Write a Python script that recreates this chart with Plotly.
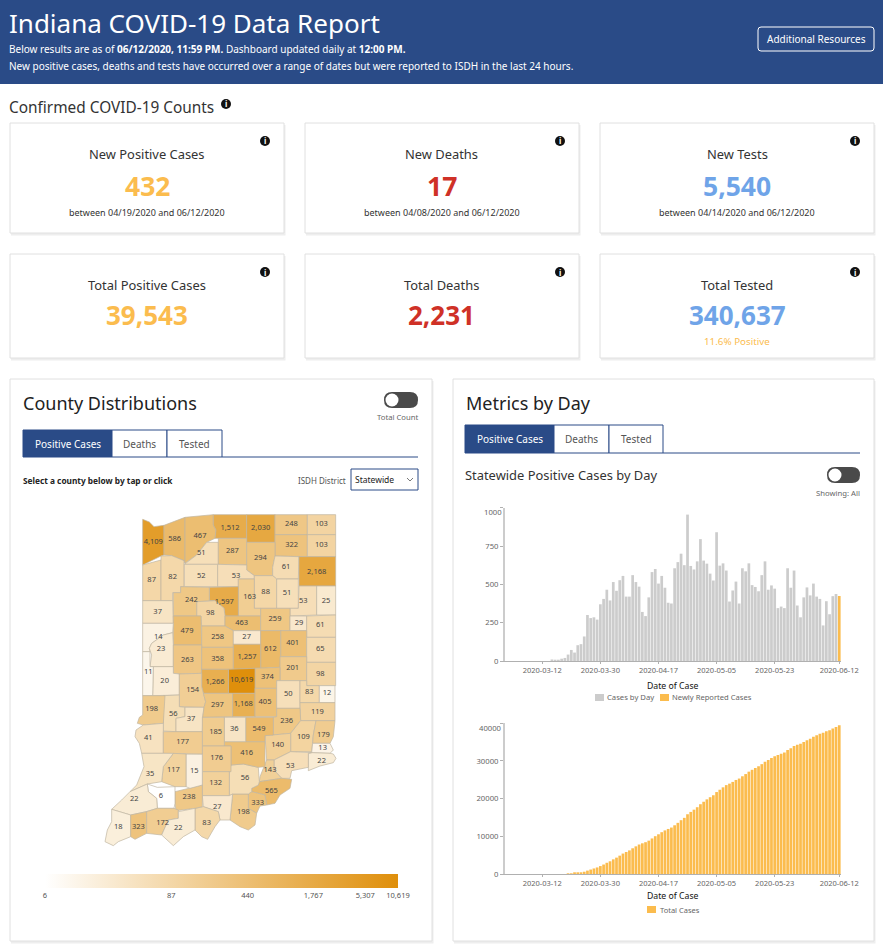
import numpy as np
import pandas as pd
import plotly.colors as pcolors
import plotly.graph_objs as graph_obj

WIDTH = 883
HEIGHT = 951
FONT = "Noto Sans"
NAVY = "#2a4b87"
ORANGE = "#fbbc4e"
GREY_BAR = "#cccccc"
RED = "#cf3127"
BLUE = "#6fa4e8"

# --- data ---------------------------------------------------------------
# cases per day, 2020-03-06 .. 2020-06-11
CASES_BY_DAY = [
    0, 0, 0, 0, 0, 0, 0, 0, 0, 10, 2, 6, 15, 20, 42, 72, 55, 103, 110, 160, 300, 280, 285, 270, 370, 405,
    465, 395, 515, 458, 527, 555, 420, 420, 560, 515, 485, 320, 293, 415, 580, 600, 505, 555, 478, 380, 375,
    605, 645, 700, 625, 955, 620, 597, 650, 795,
    655, 635, 570, 525, 840, 622, 637, 590, 388, 460, 518, 375, 605, 585, 637, 495, 483, 455, 560, 650, 465,
    493, 472, 345, 355, 345, 605, 478, 590, 362, 285,
    415, 480, 428, 505, 420, 405, 232, 390, 305, 423, 437,
]
NEW_REPORTED_DATE = ["2020-06-12"]
NEW_REPORTED = [424]
# running total per day, 2020-03-06 .. 2020-06-12
TOTAL_CASES = [
    0, 0, 0, 0, 0, 0, 0, 0, 0, 0, 0, 0, 0, 0, 103, 175, 230, 333, 443, 603, 903, 1183, 1468, 1738, 2108, 2513,
    2978, 3373, 3888, 4346, 4873, 5428, 5848, 6268, 6828, 7343, 7828, 8148, 8441, 8856, 9436, 10036, 10541, 11096,
    11574, 11954, 12329, 12934, 13579, 14279, 14904, 15859, 16479, 17076, 17726, 18521,
    19176, 19811, 20381, 20906, 21746, 22368, 23005, 23595, 23983, 24443, 24961, 25336, 25941, 26526, 27163, 27658,
    28141, 28596, 29156, 29806, 30271, 30764, 31236, 31581, 31936, 32281, 32886, 33364, 33954, 34316, 34601,
    35016, 35496, 35924, 36429, 36849, 37254, 37486, 37876, 38181, 38604, 39041, 39465,
]
DATE_TICKS = ["2020-03-12", "2020-03-30", "2020-04-17", "2020-05-05", "2020-05-23", "2020-06-12"]

COUNTY_CASES = {
    "Lake": 4109, "Porter": 586, "LaPorte": 467, "Starke": 51, "St. Joseph": 1512, "Elkhart": 2030,
    "LaGrange": 248, "Steuben": 103, "Noble": 322, "DeKalb": 103, "Marshall": 287, "Kosciusko": 294,
    "Whitley": 61, "Allen": 2168, "Newton": 87, "Jasper": 82, "Pulaski": 52, "Fulton": 53, "Wabash": 88,
    "Huntington": 51, "Wells": 53, "Adams": 25, "Miami": 163, "Cass": 1597, "Carroll": 98, "White": 242,
    "Benton": 37, "Tippecanoe": 479, "Howard": 463, "Clinton": 258, "Tipton": 27, "Grant": 259,
    "Blackford": 29, "Jay": 61, "Delaware": 401, "Madison": 612, "Randolph": 65, "Warren": 14,
    "Fountain": 23, "Montgomery": 263, "Boone": 358, "Hamilton": 1257, "Henry": 201, "Wayne": 98,
    "Hancock": 374, "Marion": 10619, "Hendricks": 1266, "Parke": 20, "Vermillion": 11, "Putnam": 154,
    "Clay": 56, "Vigo": 198, "Sullivan": 41, "Owen": 37, "Morgan": 297, "Johnson": 1168, "Shelby": 405,
    "Rush": 50, "Fayette": 83, "Union": 12, "Franklin": 119, "Decatur": 236, "Ripley": 109, "Dearborn": 179,
    "Ohio": 13, "Switzerland": 22, "Jennings": 140, "Jefferson": 53, "Scott": 143, "Clark": 565, "Floyd": 333,
    "Harrison": 198, "Washington": 56, "Jackson": 416, "Bartholomew": 549, "Brown": 36, "Monroe": 185,
    "Lawrence": 176, "Orange": 132, "Crawford": 27, "Perry": 83, "Dubois": 238, "Martin": 15, "Greene": 177,
    "Daviess": 117, "Knox": 35, "Pike": 6, "Gibson": 22, "Posey": 18, "Vanderburgh": 323, "Warrick": 172,
    "Spencer": 22,
}
SCALE_TICKS = [6, 87, 440, 1767, 5307, 10619]

# county outlines, traced in map units
COUNTY_SHAPES = {
    "Lake": [(128, 28), (148, 36), (162, 50), (192, 46), (192, 135), (183, 138), (128, 165)],
    "Porter": [(192, 46), (255, 22), (255, 160), (252, 152), (215, 137), (192, 135)],
    "LaPorte": [(255, 22), (340, 14), (340, 45), (348, 60), (345, 85), (320, 97), (290, 135), (255, 160)],
    "Starke": [(320, 97), (355, 97), (355, 163), (253, 163), (290, 135)],
    "St. Joseph": [(340, 14), (440, 14), (440, 85), (345, 85), (348, 60), (340, 45)],
    "Elkhart": [(440, 14), (525, 14), (525, 97), (440, 97)],
    "LaGrange": [(525, 14), (622, 14), (622, 74), (525, 74)],
    "Steuben": [(622, 14), (707, 14), (707, 74), (622, 74)],
    "Noble": [(525, 74), (622, 74), (622, 140), (525, 138)],
    "DeKalb": [(622, 74), (707, 74), (707, 140), (622, 140)],
    "Marshall": [(355, 85), (440, 85), (440, 165), (355, 163)],
    "Kosciusko": [(440, 97), (525, 97), (525, 138), (518, 172), (518, 197), (463, 197), (440, 180)],
    "Whitley": [(518, 172), (525, 138), (597, 140), (595, 207), (530, 207), (518, 197)],
    "Allen": [(597, 140), (707, 140), (707, 228), (597, 228)],
    "Newton": [(128, 165), (183, 150), (183, 272), (128, 272)],
    "Jasper": [(183, 138), (215, 137), (252, 152), (252, 230), (242, 230), (242, 248), (218, 248), (218, 272), (183, 272)],
    "Pulaski": [(253, 163), (353, 163), (353, 230), (253, 230)],
    "Fulton": [(353, 163), (440, 165), (440, 180), (463, 197), (463, 207), (415, 207), (415, 230), (353, 230)],
    "Wabash": [(463, 197), (518, 197), (530, 207), (530, 295), (463, 295)],
    "Huntington": [(530, 207), (595, 207), (595, 295), (530, 295)],
    "Wells": [(597, 228), (650, 228), (650, 315), (570, 318), (570, 295), (595, 295)],
    "Adams": [(650, 228), (707, 228), (707, 315), (650, 315)],
    "Miami": [(415, 207), (463, 207), (463, 295), (482, 295), (482, 318), (415, 318)],
    "Cass": [(328, 232), (415, 230), (415, 318), (375, 318), (372, 295), (345, 272), (328, 272)],
    "Carroll": [(290, 275), (345, 272), (372, 295), (375, 318), (375, 348), (305, 348), (303, 318), (290, 318)],
    "White": [(242, 230), (328, 232), (328, 272), (290, 275), (290, 318), (220, 318), (220, 248), (242, 248)],
    "Benton": [(128, 272), (218, 272), (220, 340), (128, 340)],
    "Tippecanoe": [(220, 318), (303, 318), (305, 405), (220, 405)],
    "Howard": [(375, 318), (482, 318), (482, 362), (400, 362), (375, 348)],
    "Clinton": [(305, 348), (375, 348), (400, 362), (400, 412), (305, 412)],
    "Tipton": [(400, 362), (482, 362), (482, 403), (400, 403)],
    "Grant": [(482, 295), (570, 295), (570, 362), (482, 362)],
    "Blackford": [(570, 318), (620, 318), (620, 362), (570, 362)],
    "Jay": [(620, 318), (707, 315), (707, 382), (620, 382)],
    "Delaware": [(542, 362), (620, 362), (620, 440), (542, 440)],
    "Madison": [(482, 362), (542, 362), (542, 440), (540, 472), (482, 475)],
    "Randolph": [(620, 382), (707, 382), (707, 457), (620, 457)],
    "Warren": [(128, 340), (220, 340), (218, 368), (190, 375), (155, 400), (148, 415), (150, 425), (128, 425)],
    "Fountain": [(218, 368), (220, 405), (220, 470), (150, 470), (155, 435), (148, 415), (155, 400), (190, 375)],
    "Montgomery": [(220, 405), (305, 405), (305, 490), (238, 492), (220, 490)],
    "Boone": [(305, 412), (400, 412), (400, 478), (305, 478)],
    "Hamilton": [(400, 403), (482, 403), (482, 475), (465, 475), (400, 478)],
    "Henry": [(540, 440), (620, 440), (620, 512), (540, 512)],
    "Wayne": [(620, 457), (707, 457), (707, 527), (620, 527)],
    "Hancock": [(465, 475), (540, 472), (540, 512), (530, 512), (530, 535), (465, 535)],
    "Marion": [(385, 478), (465, 475), (465, 550), (385, 550)],
    "Hendricks": [(305, 478), (385, 478), (385, 550), (310, 550), (305, 530)],
    "Parke": [(160, 470), (220, 470), (220, 490), (238, 492), (238, 555), (158, 557)],
    "Vermillion": [(128, 425), (150, 425), (150, 470), (160, 470), (158, 557), (128, 557)],
    "Putnam": [(238, 492), (305, 490), (305, 530), (310, 550), (317, 575), (312, 592), (255, 592), (238, 590)],
    "Clay": [(190, 557), (238, 555), (238, 590), (255, 592), (255, 620), (228, 625), (228, 665), (190, 663)],
    "Vigo": [(128, 557), (195, 557), (190, 640), (130, 645), (112, 640), (118, 622), (128, 615)],
    "Sullivan": [(130, 645), (190, 640), (190, 730), (125, 730), (118, 700), (105, 680), (108, 660)],
    "Owen": [(255, 592), (312, 592), (308, 622), (307, 665), (228, 665), (228, 625), (255, 620)],
    "Morgan": [(310, 550), (398, 550), (398, 620), (308, 622), (312, 592), (317, 575)],
    "Johnson": [(398, 550), (465, 550), (465, 620), (398, 620)],
    "Shelby": [(465, 535), (530, 535), (530, 620), (465, 620)],
    "Rush": [(530, 512), (600, 512), (600, 595), (530, 595)],
    "Fayette": [(600, 512), (620, 512), (620, 527), (658, 527), (658, 578), (600, 578)],
    "Union": [(658, 527), (705, 527), (705, 578), (658, 578)],
    "Franklin": [(600, 578), (705, 578), (705, 632), (602, 632)],
    "Decatur": [(530, 595), (600, 595), (602, 632), (572, 670), (520, 675), (520, 622), (530, 620)],
    "Ripley": [(602, 632), (648, 632), (640, 675), (635, 725), (572, 725), (572, 670)],
    "Dearborn": [(648, 632), (705, 632), (700, 680), (690, 700), (638, 700), (640, 675)],
    "Ohio": [(638, 700), (690, 700), (700, 720), (690, 730), (635, 728)],
    "Switzerland": [(625, 730), (635, 728), (690, 730), (700, 732), (708, 745), (700, 758), (660, 768), (625, 782)],
    "Jennings": [(495, 677), (520, 675), (572, 670), (572, 725), (522, 750), (500, 750), (495, 695)],
    "Jefferson": [(522, 750), (572, 725), (635, 728), (625, 730), (625, 772), (575, 782), (570, 805), (545, 805), (522, 780)],
    "Scott": [(500, 750), (522, 750), (522, 780), (545, 805), (478, 815), (480, 800), (490, 775)],
    "Clark": [(455, 835), (475, 825), (478, 815), (545, 805), (575, 808), (570, 835), (540, 855), (525, 880), (500, 885), (495, 855), (455, 845)],
    "Floyd": [(445, 852), (455, 845), (495, 855), (500, 885), (480, 888), (470, 910), (445, 895)],
    "Harrison": [(398, 852), (445, 852), (445, 895), (470, 910), (465, 945), (445, 960), (420, 950), (390, 930)],
    "Washington": [(393, 765), (430, 762), (475, 772), (478, 815), (475, 825), (455, 835), (455, 845), (445, 852), (398, 852), (388, 857), (388, 785)],
    "Jackson": [(373, 695), (495, 695), (495, 770), (475, 772), (430, 762), (393, 765), (393, 708), (373, 708)],
    "Bartholomew": [(437, 622), (520, 622), (520, 675), (495, 677), (495, 695), (437, 695)],
    "Brown": [(373, 622), (437, 622), (437, 695), (373, 695)],
    "Monroe": [(307, 622), (373, 622), (373, 708), (307, 708)],
    "Lawrence": [(307, 708), (393, 708), (393, 785), (307, 785)],
    "Orange": [(307, 785), (388, 785), (388, 857), (307, 857)],
    "Crawford": [(307, 857), (388, 857), (398, 852), (390, 930), (360, 930), (355, 905), (310, 890)],
    "Perry": [(285, 895), (310, 890), (355, 905), (360, 930), (345, 950), (323, 988), (305, 980), (285, 960)],
    "Dubois": [(225, 845), (270, 835), (307, 825), (307, 890), (285, 895), (228, 902), (225, 880)],
    "Martin": [(258, 732), (307, 732), (307, 825), (270, 835), (258, 830)],
    "Greene": [(190, 665), (307, 665), (307, 732), (190, 730)],
    "Daviess": [(220, 730), (258, 732), (258, 830), (225, 830), (185, 815), (190, 770)],
    "Knox": [(125, 730), (220, 730), (190, 770), (185, 815), (142, 822), (90, 845), (110, 825), (132, 770)],
    "Pike": [(142, 822), (172, 832), (225, 830), (225, 880), (222, 895), (172, 895), (170, 865), (145, 845)],
    "Gibson": [(90, 845), (142, 822), (145, 845), (170, 865), (172, 895), (138, 905), (92, 915), (35, 898), (65, 870)],
    "Posey": [(35, 898), (92, 915), (92, 980), (55, 995), (40, 1007), (15, 995), (22, 960), (35, 935)],
    "Vanderburgh": [(92, 915), (140, 905), (140, 970), (105, 988), (92, 980)],
    "Warrick": [(140, 905), (172, 895), (222, 895), (235, 900), (235, 925), (205, 930), (185, 975), (160, 972), (140, 970)],
    "Spencer": [(235, 905), (285, 895), (285, 960), (250, 980), (220, 1007), (185, 975), (205, 930), (235, 925)],
}

# where each number sits on the map
COUNTY_LABELS = {
    "Lake": (160, 97), "Porter": (224, 88), "LaPorte": (300, 79), "Starke": (304, 130), "St. Joseph": (390, 55),
    "Elkhart": (482, 55), "LaGrange": (574, 43), "Steuben": (664, 43), "Noble": (575, 106), "DeKalb": (664, 106),
    "Marshall": (397, 124), "Kosciusko": (481, 145), "Whitley": (558, 170), "Allen": (650, 185), "Newton": (155, 211),
    "Jasper": (218, 202), "Pulaski": (304, 197), "Fulton": (408, 197), "Wabash": (497, 245), "Huntington": (561, 250),
    "Wells": (610, 272), "Adams": (678, 272), "Miami": (449, 262), "Cass": (373, 275), "Carroll": (331, 310),
    "White": (274, 270), "Benton": (173, 305), "Tippecanoe": (261, 362), "Howard": (425, 340), "Clinton": (353, 382),
    "Tipton": (440, 380), "Grant": (525, 328), "Blackford": (597, 340), "Jay": (661, 346), "Delaware": (578, 400),
    "Madison": (511, 418), "Randolph": (661, 418), "Warren": (175, 382), "Fountain": (183, 418), "Montgomery": (262, 449),
    "Boone": (353, 446), "Hamilton": (441, 440), "Henry": (578, 475), "Wayne": (661, 493), "Hancock": (502, 502),
    "Marion": (425, 511), "Hendricks": (345, 517), "Parke": (194, 512), "Vermillion": (145, 487), "Putnam": (278, 541),
    "Clay": (220, 611), "Vigo": (155, 598), "Sullivan": (145, 685), "Owen": (273, 628), "Morgan": (352, 586),
    "Johnson": (430, 583), "Shelby": (495, 577), "Rush": (565, 553), "Fayette": (628, 545), "Union": (681, 550),
    "Franklin": (652, 607), "Decatur": (560, 633), "Ripley": (610, 680), "Dearborn": (670, 675), "Ohio": (668, 715),
    "Switzerland": (665, 753), "Jennings": (533, 705), "Jefferson": (571, 769), "Scott": (510, 781), "Clark": (514, 843),
    "Floyd": (473, 880), "Harrison": (430, 905), "Washington": (435, 805), "Jackson": (440, 730), "Bartholomew": (477, 658),
    "Brown": (403, 658), "Monroe": (347, 665), "Lawrence": (350, 745), "Orange": (347, 820), "Crawford": (352, 890),
    "Perry": (320, 938), "Dubois": (267, 862), "Martin": (283, 782), "Greene": (248, 697), "Daviess": (220, 780),
    "Knox": (150, 791), "Pike": (183, 857), "Gibson": (103, 868), "Posey": (55, 951), "Vanderburgh": (115, 950),
    "Warrick": (188, 938), "Spencer": (235, 955),
}

COLOR_SCALE = [[0, "#ffffff"], [1, "#df8f0b"]]
LOG_MIN = np.log10(min(SCALE_TICKS))
LOG_MAX = np.log10(max(SCALE_TICKS))


# --- page furniture helpers, everything here in screen pixels -----------
def px(x):
    return x / WIDTH


def py(y):
    return 1 - y / HEIGHT


shapes = []
notes = []


def text(x, y, label, size=10, color="#333333", anchor="left", yshift=0):
    notes.append(dict(x=px(x), y=py(y), xref="paper", yref="paper", text=label, showarrow=False,
                      xanchor=anchor, yanchor="middle", yshift=yshift,
                      font=dict(family=FONT, size=size, color=color), borderpad=0, borderwidth=0))


def box(x0, y0, x1, y1, fill="#ffffff", line=None, width=1):
    shapes.append(dict(type="rect", xref="paper", yref="paper", x0=px(x0), x1=px(x1), y0=py(y1), y1=py(y0),
                       fillcolor=fill, line=dict(color=line, width=width if line else 0), layer="below"))


def round_box(x0, y0, x1, y1, r, fill="rgba(0,0,0,0)", line=None, width=1):
    rx, ry = r / WIDTH, r / HEIGHT
    a, b, c, d = px(x0), px(x1), py(y0), py(y1)
    path = (f"M{a + rx},{c} L{b - rx},{c} Q{b},{c} {b},{c - ry} L{b},{d + ry} Q{b},{d} {b - rx},{d} "
            f"L{a + rx},{d} Q{a},{d} {a},{d + ry} L{a},{c - ry} Q{a},{c} {a + rx},{c} Z")
    shapes.append(dict(type="path", xref="paper", yref="paper", path=path, fillcolor=fill,
                       line=dict(color=line, width=width if line else 0), layer="below"))


def circle(cx, cy, r, fill):
    shapes.append(dict(type="circle", xref="paper", yref="paper", x0=px(cx - r), x1=px(cx + r),
                       y0=py(cy + r), y1=py(cy - r), fillcolor=fill, line=dict(width=0), layer="below"))


def card(x0, y0, x1, y1):
    box(x0 + 1, y0 + 2, x1 + 1.5, y1 + 2.5, fill="#eeeeee")
    box(x0, y0, x1, y1, line="#e0e0e0")


def info(cx, cy):
    circle(cx, cy, 5, "#111111")
    text(cx, cy, "<b>i</b>", size=8, color="#ffffff", anchor="center")


def toggle(x0, y0, x1, y1):
    round_box(x0, y0, x1, y1, (y1 - y0) / 2, fill="#4a4a4a")
    circle(x0 + 8, (y0 + y1) / 2, 6.5, "#ffffff")


def tabs(x, y0, y1, widths, line_end):
    names = ["Positive Cases", "Deaths", "Tested"]
    for i, (name, w) in enumerate(zip(names, widths)):
        if i == 0:
            box(x, y0, x + w, y1, fill=NAVY, line=NAVY)
            text(x + w / 2, (y0 + y1) / 2, name, size=10, color="#ffffff", anchor="center")
        else:
            box(x, y0, x + w, y1, line=NAVY)
            text(x + w / 2, (y0 + y1) / 2, name, size=10, color="#555555", anchor="center")
        x += w
    shapes.append(dict(type="line", xref="paper", yref="paper", x0=px(x), x1=px(line_end), y0=py(y1), y1=py(y1),
                       line=dict(color=NAVY, width=1), layer="below"))


# header band
box(0, 0, WIDTH, 84, fill=NAVY)
text(9, 23, "Indiana COVID-19 Data Report", size=26, color="#ffffff")
text(9, 49, "Below results are as of <b>06/12/2020, 11:59 PM.</b> Dashboard updated daily at <b>12:00 PM.</b>",
     size=10, color="#ffffff")
text(9, 66, "New positive cases, deaths and tests have occurred over a range of dates but were reported to ISDH in the last 24 hours.",
     size=10, color="#ffffff")
round_box(758, 27, 874, 51, 3, line="#ffffff")
text(816, 39, "Additional Resources", size=10, color="#ffffff", anchor="center")

text(9, 108, "Confirmed COVID-19 Counts", size=15.4, color="#333333")
info(226, 104)

# count cards
CARD_X = [(10, 284), (305, 579), (600, 874)]
TOP_CARDS = [("New Positive Cases", "432", ORANGE, "between 04/19/2020 and 06/12/2020"),
             ("New Deaths", "17", RED, "between 04/08/2020 and 06/12/2020"),
             ("New Tests", "5,540", BLUE, "between 04/14/2020 and 06/12/2020")]
BOTTOM_CARDS = [("Total Positive Cases", "39,543", ORANGE), ("Total Deaths", "2,231", RED), ("Total Tested", "340,637", BLUE)]
for (x0, x1), (title, value, color, note) in zip(CARD_X, TOP_CARDS):
    card(x0, 123, x1, 233)
    info(x1 - 19, 141)
    mid = (x0 + x1) / 2
    text(mid, 154, title, size=12.9, anchor="center")
    text(mid, 186, f"<b>{value}</b>", size=26.5, color=color, anchor="center")
    text(mid, 213, note, size=9, anchor="center")
for (x0, x1), (title, value, color) in zip(CARD_X, BOTTOM_CARDS):
    card(x0, 254, x1, 358)
    info(x1 - 19, 272)
    mid = (x0 + x1) / 2
    text(mid, 285, title, size=12.9, anchor="center")
    text(mid, 315.5, f"<b>{value}</b>", size=26, color=color, anchor="center")
text(737, 341, "11.6% Positive", size=9.8, color=ORANGE, anchor="center")

# left panel
card(10, 379, 432, 941)
text(23, 403, "County Distributions", size=18, color="#222222")
toggle(384, 392, 418, 408)
text(418, 417, "Total Count", size=7.7, color="#666666", anchor="right")
tabs(23, 430, 457, [89, 55, 55], 418)
text(23, 480, "<b>Select a county below by tap or click</b>", size=8.3, color="#222222")
text(346, 480, "ISDH District", size=8, color="#555555", anchor="right")
box(351, 469, 418, 490, line=NAVY)
text(355, 479, "Statewide", size=8.5, color="#222222")
shapes.append(dict(type="path", xref="paper", yref="paper", layer="below", line=dict(color="#555555", width=0.8),
                   path=f"M{px(407)},{py(478)} L{px(410)},{py(481)} L{px(413)},{py(478)}"))

# right panel
card(453, 379, 874, 941)
text(466, 403, "Metrics by Day", size=18, color="#222222")
tabs(465, 425, 453, [89, 55, 54], 860)
text(465, 475, "Statewide Positive Cases by Day", size=12.9, color="#333333")
toggle(827, 467, 860, 483)
text(860, 493, "Showing: All", size=7.7, color="#666666", anchor="right")

# chart furniture that sits outside the axes
text(673, 686, "Date of Case", size=8.7, color="#111111", anchor="center")
box(595, 694, 604, 701, fill=GREY_BAR)
text(607, 697, "Cases by Day", size=7.7, color="#666666")
box(660, 694, 669, 701, fill=ORANGE)
text(672, 697, "Newly Reported Cases", size=7.6, color="#666666")
text(502, 512, "1000", size=7.7, color="#666666", anchor="right")

text(673, 896, "Date of Case", size=8.7, color="#111111", anchor="center")
box(647, 906, 656, 913, fill=ORANGE)
text(660, 910, "Total Cases", size=7.5, color="#666666")
text(502, 728, "40000", size=7.7, color="#666666", anchor="right")

# --- figure -------------------------------------------------------------
fig = graph_obj.Figure()

day_dates = pd.date_range(end="2020-06-11", periods=len(CASES_BY_DAY))
total_dates = pd.date_range(end="2020-06-12", periods=len(TOTAL_CASES))

fig.add_trace(graph_obj.Bar(x=day_dates, y=CASES_BY_DAY, name="Cases by Day", marker=dict(color=GREY_BAR, line_width=0),
                            xaxis="x", yaxis="y"))
fig.add_trace(graph_obj.Bar(x=NEW_REPORTED_DATE, y=NEW_REPORTED, name="Newly Reported Cases",
                            marker=dict(color=ORANGE, line_width=0), xaxis="x", yaxis="y"))
fig.add_trace(graph_obj.Bar(x=total_dates, y=TOTAL_CASES, name="Total Cases", marker=dict(color=ORANGE, line_width=0),
                            xaxis="x2", yaxis="y2"))

# map: one filled outline per county
names = list(COUNTY_CASES)
for name in names:
    outline = COUNTY_SHAPES[name]
    share = (np.log10(COUNTY_CASES[name]) - LOG_MIN) / (LOG_MAX - LOG_MIN)
    fill = pcolors.sample_colorscale(COLOR_SCALE, [share])[0]
    fig.add_trace(graph_obj.Scatter(
        x=[p[0] for p in outline] + [outline[0][0]],
        y=[p[1] for p in outline] + [outline[0][1]],
        mode="lines", fill="toself", fillcolor=fill, line=dict(color="#c0b6a2", width=0.7),
        name=name, showlegend=False, hoverinfo="skip", xaxis="x3", yaxis="y3"))

# numbers on top of the map, this trace also carries the colour bar
fig.add_trace(graph_obj.Scatter(
    x=[COUNTY_LABELS[n][0] for n in names],
    y=[COUNTY_LABELS[n][1] for n in names],
    mode="markers+text",
    text=[f"{COUNTY_CASES[n]:,}" for n in names],
    textposition="middle center",
    textfont=dict(family=FONT, size=7.5, color="#444444"),
    customdata=names,
    hovertemplate="%{customdata}: %{text}<extra></extra>",
    marker=dict(size=1, opacity=0, color=[np.log10(COUNTY_CASES[n]) for n in names],
                colorscale=COLOR_SCALE, cmin=LOG_MIN, cmax=LOG_MAX, showscale=True,
                colorbar=dict(orientation="h", x=px(45), xanchor="left", y=py(897.5), yanchor="bottom",
                              len=353, lenmode="pixels", thickness=13.5, thicknessmode="pixels",
                              xpad=0, ypad=0, outlinewidth=0, ticks="", ticklabelposition="outside",
                              tickvals=[np.log10(v) for v in SCALE_TICKS],
                              ticktext=[f"{v:,}" for v in SCALE_TICKS],
                              tickfont=dict(family=FONT, size=7.5, color="#555555"))),
    showlegend=False, xaxis="x3", yaxis="y3"))

date_axis = dict(type="date", range=["2020-02-29 11:00", "2020-06-12 13:00"], tickvals=DATE_TICKS, ticktext=DATE_TICKS,
                 showgrid=False, zeroline=False, showline=True, linecolor="#b0b0b0", linewidth=1, ticks="outside",
                 ticklen=2, tickcolor="#b0b0b0", tickfont=dict(family=FONT, size=7.5, color="#666666"))
count_axis = dict(showgrid=False, zeroline=False, showline=True, linecolor="#cccccc", linewidth=2, ticks="outside",
                  ticklen=3, tickcolor="#b0b0b0", tickfont=dict(family=FONT, size=7.7, color="#666666"))

fig.update_layout(
    width=WIDTH,
    height=HEIGHT,
    margin=dict(l=0, r=0, t=0, b=0, autoexpand=False),
    autosize=False,
    paper_bgcolor="#ffffff",
    plot_bgcolor="rgba(0,0,0,0)",
    barmode="stack",
    bargap=0.16,
    showlegend=False,
    font=dict(family=FONT),
    shapes=shapes,
    annotations=notes,
    xaxis=dict(date_axis, domain=[px(505), px(841)], anchor="y"),
    yaxis=dict(count_axis, domain=[py(661), py(507.7)], anchor="x", range=[0, 1000],
               tickvals=[0, 250, 500, 750, 1000], ticktext=["0", "250", "500", "750", ""]),
    xaxis2=dict(date_axis, domain=[px(505), px(841)], anchor="y2"),
    yaxis2=dict(count_axis, domain=[py(874), py(723.3)], anchor="x2", range=[0, 40000],
                tickvals=[0, 10000, 20000, 30000, 40000], ticktext=["0", "10000", "20000", "30000", ""]),
    xaxis3=dict(domain=[px(100), px(350)], range=[0, 750], anchor="y3", visible=False),
    yaxis3=dict(domain=[py(850), py(510)], range=[1020, 0], anchor="x3", visible=False),
)

# bars get crisp edges by default, which makes the daily gaps uneven at this width
page_fix = """
document.body.style.margin = '0';
document.documentElement.style.overflow = 'hidden';
var barStyle = document.createElement('style');
barStyle.textContent = '.barlayer path {shape-rendering: geometricPrecision !important;}';
document.head.appendChild(barStyle);
"""
fig.write_html("out.html", config={"displayModeBar": False}, post_script=page_fix)
